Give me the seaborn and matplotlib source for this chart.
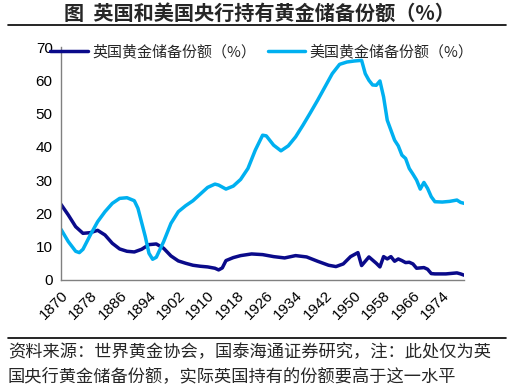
import matplotlib
matplotlib.use("Agg")

import matplotlib.pyplot as plt
from matplotlib.lines import Line2D
import seaborn as sns
import pandas as pd

# 英国央行黄金储备份额（%）
uk_years = [1870, 1872, 1874, 1876, 1878, 1880, 1882, 1884, 1886, 1888, 1890, 1892,
            1894, 1896, 1898, 1900, 1902, 1904, 1906, 1908, 1910, 1912, 1913, 1914,
            1915, 1917, 1919, 1922, 1925, 1928, 1931, 1934, 1937, 1940, 1943, 1945,
            1947, 1949, 1951, 1952, 1954, 1956, 1957, 1958, 1959, 1960, 1961, 1962,
            1963, 1964, 1965, 1966, 1967, 1968, 1969, 1970, 1971, 1972, 1975, 1978,
            1979, 1980]
uk_share = [22.7, 19.5, 16.0, 14.0, 14.2, 14.9, 13.5, 11.0, 9.3, 8.6, 8.4, 9.2,
            10.6, 10.8, 9.5, 7.2, 5.7, 5.0, 4.4, 4.1, 3.9, 3.5, 3.0, 3.6,
            5.8, 6.7, 7.3, 7.8, 7.6, 7.0, 6.6, 7.3, 6.9, 5.6, 4.4, 4.0,
            4.8, 7.0, 8.2, 4.3, 6.9, 5.0, 3.9, 7.0, 6.3, 7.0, 5.6, 6.3,
            5.8, 5.2, 5.3, 4.8, 3.5, 3.6, 3.7, 3.2, 1.9, 1.8, 1.8, 2.1,
            1.8, 1.4]

# 美国黄金储备份额（%）
us_years = [1870, 1872, 1874, 1875, 1876, 1878, 1880, 1882, 1884, 1886, 1888, 1890,
            1891, 1893, 1894, 1895, 1896, 1898, 1900, 1902, 1904, 1906, 1908, 1910,
            1912, 1913, 1915, 1917, 1919, 1921, 1923, 1925, 1926, 1928, 1930, 1932,
            1934, 1936, 1938, 1940, 1942, 1944, 1946, 1948, 1950, 1952, 1953, 1954,
            1955, 1956, 1957, 1958, 1959, 1960, 1961, 1962, 1963, 1964, 1965, 1966,
            1967, 1968, 1969, 1970, 1971, 1972, 1974, 1976, 1978, 1979, 1980]
us_share = [15.2, 11.5, 8.6, 8.2, 9.2, 13.5, 17.5, 20.5, 23.0, 24.5, 24.7, 23.8,
            21.5, 13.0, 8.0, 6.2, 6.8, 11.5, 17.0, 20.5, 22.3, 23.8, 25.8, 27.8,
            28.8, 28.5, 27.3, 28.2, 30.2, 33.5, 39.0, 43.5, 43.3, 40.5, 38.8, 40.3,
            43.0, 46.5, 50.2, 54.0, 58.0, 62.0, 64.8, 65.5, 65.8, 66.0, 62.0, 60.0,
            58.6, 58.5, 59.8, 55.0, 48.0, 45.0, 42.0, 40.3, 37.5, 36.5, 33.5, 31.8,
            30.0, 27.3, 29.3, 27.5, 25.0, 23.5, 23.4, 23.6, 24.0, 23.3, 23.0]

x_ticks = list(range(1870, 1975, 8))
y_ticks = [0, 10, 20, 30, 40, 50, 60, 70]

uk_label = "英国黄金储备份额（%）"
us_label = "美国黄金储备份额（%）"
title = "图  英国和美国央行持有黄金储备份额（%）"
note = ("资料来源：世界黄金协会，国泰海通证券研究，注：此处仅为英\n"
        "国央行黄金储备份额，实际英国持有的份额要高于这一水平")

sns.set_theme(style="white")
plt.rcParams["font.family"] = ["Noto Sans CJK SC", "DejaVu Sans"]

df = pd.concat([
    pd.DataFrame({"year": uk_years, "share": uk_share, "series": uk_label}),
    pd.DataFrame({"year": us_years, "share": us_share, "series": us_label}),
])

fig = plt.figure(figsize=(5.19, 3.92), dpi=100)
ax = fig.add_axes([0.1175, 0.286, 0.777, 0.594])

sns.lineplot(data=df, x="year", y="share", hue="series",
             palette={uk_label: "#0a0a8a", us_label: "#00b0f0"},
             linewidth=2.5, ax=ax, legend=False, sort=True)

ax.set_xlim(1870, 1980)
ax.set_ylim(0, 70)
ax.set_xticks(x_ticks)
ax.set_xticklabels([str(t) for t in x_ticks], rotation=45, ha="right",
                   rotation_mode="anchor", family="Liberation Sans", fontsize=11)
ax.set_yticks(y_ticks)
ax.set_yticklabels([str(t) for t in y_ticks], family="Liberation Sans", fontsize=11)
ax.set_xlabel("")
ax.set_ylabel("")
ax.tick_params(axis="both", direction="out", length=4, width=1, color="#808080",
               labelcolor="black", pad=2)
for side in ["top", "right"]:
    ax.spines[side].set_visible(False)
for side in ["left", "bottom"]:
    ax.spines[side].set_color("#808080")
    ax.spines[side].set_linewidth(1)

handles = [Line2D([], [], color="#0a0a8a", linewidth=2.5),
           Line2D([], [], color="#00b0f0", linewidth=2.5)]
fig.legend(handles, [uk_label, us_label], loc="center left",
           bbox_to_anchor=(50 / 519, 1 - 52 / 392), ncol=2, frameon=False,
           fontsize=10.8, handlelength=2.5, handletextpad=0.3, columnspacing=0.8,
           borderpad=0, borderaxespad=0)

fig.text(0.5, 1 - 13 / 392, title, ha="center", va="center",
         fontsize=14.5, fontweight="bold")
fig.add_artist(Line2D([8 / 519, 506 / 519], [1 - 25 / 392, 1 - 25 / 392],
                      color="black", linewidth=1.2))
fig.add_artist(Line2D([8 / 519, 506 / 519], [1 - 338 / 392, 1 - 338 / 392],
                      color="black", linewidth=1.2))
fig.text(8 / 519, 1 - 343 / 392, note, ha="left", va="top",
         fontsize=12.4, linespacing=1.45)

fig.savefig("out.png", dpi=100)
